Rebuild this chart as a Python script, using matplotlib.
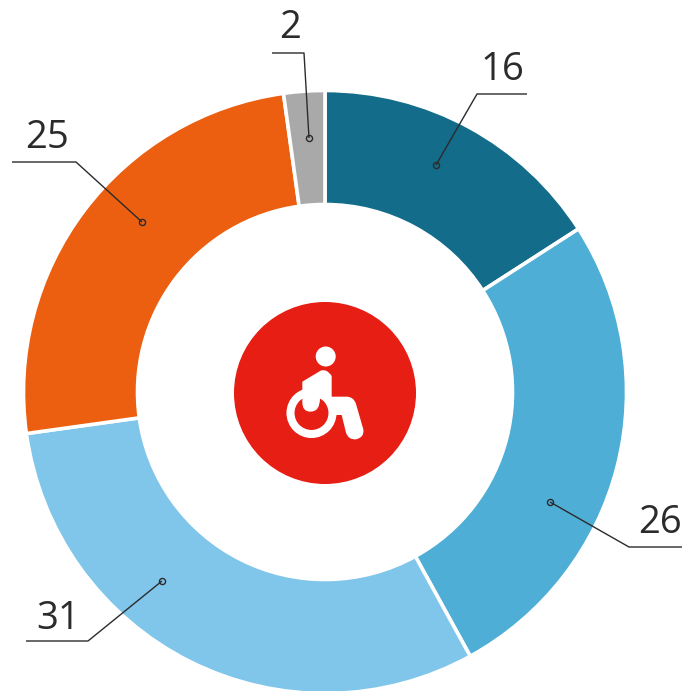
import matplotlib
matplotlib.use("Agg")
import matplotlib.pyplot as plt
from matplotlib.patches import Circle, PathPatch
from matplotlib.path import Path

values = [15.9, 26.1, 30.8, 25, 2.2]
labels = ["16", "26", "31", "25", "2"]
colors = ["#136c8a", "#4eaed6", "#80c6ea", "#ec5f10", "#a9a9a9"]

W, H = 682, 691
CX, CY = 325, 392
fig = plt.figure(figsize=(W / 100, H / 100), dpi=100)
ax = fig.add_axes([0, 0, 1, 1])
ax.set_xlim(0, W)
ax.set_ylim(H, 0)
ax.set_aspect("equal")
ax.axis("off")

# The y axis is inverted, so counterclock=True with a negative start runs clockwise on screen
ax.pie(values, colors=colors, center=(CX, CY), radius=301.5, startangle=-90,
       counterclock=True, frame=True,
       wedgeprops=dict(width=114, edgecolor="white", linewidth=2.6))
ax.set_xlim(0, W)
ax.set_ylim(H, 0)
ax.axis("off")

ink = "#2b2b2b"
callouts = [
    ((436, 165), (477, 94), (527, 94), (502, 80)),
    ((550, 502), (629, 547), (682, 547), (660, 533)),
    ((162, 581), (88, 641), (26, 641), (58, 629)),
    ((142, 222), (76, 162), (12, 162), (47, 148)),
    ((309, 138), (304, 53), (272, 53), (290, 38)),
]
for text, (dot, elbow, end, pos) in zip(labels, callouts):
    ax.plot([dot[0], elbow[0], end[0]], [dot[1], elbow[1], end[1]],
            color=ink, lw=1.0, solid_capstyle="butt", zorder=5)
    ax.plot(*dot, "o", ms=4.4, mfc="none", mec=ink, mew=1.0, zorder=6)
    ax.text(pos[0], pos[1], text, ha="center", va="baseline", fontsize=27.5,
            family="Open Sans", color=ink, zorder=7)

# Centre icon
red = "#e61e14"
ax.add_patch(Circle((325, 393), 91, fc=red, ec="none", zorder=8))
ax.add_patch(Circle((325.7, 356.5), 10, fc="white", ec="none", zorder=9))
ax.add_patch(Circle((311.5, 413), 21, fc="none", ec="white", lw=5.8, zorder=9))

Z = lambda x, y: (230 + x / 3, 300 + y / 3)
M, L, C, E = Path.MOVETO, Path.LINETO, Path.CURVE3, Path.CLOSEPOLY
pts = [
    (217, 245), (272, 212), (290, 205), (305, 228), (305, 290), (352, 290),
    (372, 292), (378, 312), (400, 388), (404, 412), (378, 418), (355, 420),
    (348, 398), (335, 345), (310, 345), (285, 305), (270, 295), (270, 335),
    (241, 335), (216, 335), (217, 305), (217, 245), (217, 245),
]
codes = [M, L, C, C, L, L, C, C, L, C, C, C, C, L, L, L, L, C, C, C, C, L, E]
body = Path([Z(*p) for p in pts], codes)
ax.add_patch(PathPatch(body, fc="white", ec="none", zorder=10))

fig.savefig("out.png", dpi=100)
